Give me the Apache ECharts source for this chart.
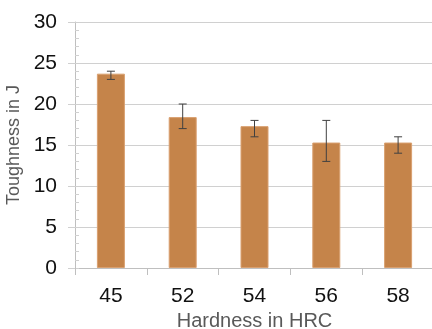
<!DOCTYPE html>
<html>
<head>
<meta charset="utf-8">
<script src="https://cdn.jsdelivr.net/npm/echarts@6/dist/echarts.min.js"></script>
<style>html,body{margin:0;padding:0;background:#fff;}#c{width:432px;height:329px;}</style>
</head>
<body>
<div id="c"></div>
<script>
const categories = ['45', '52', '54', '56', '58'];
const toughness = [23.7, 18.4, 17.3, 15.3, 15.3];
const errLow = [23.0, 17.0, 16.0, 13.0, 14.0];
const errHigh = [24.0, 20.0, 18.0, 18.0, 16.0];
const yTicks = [0, 5, 10, 15, 20, 25, 30];

const chart = echarts.init(document.getElementById('c'), null, {renderer: 'canvas'});
const font = 'Liberation Sans, Arial, sans-serif';
const errData = categories.map((c, i) => [i, errLow[i], errHigh[i]]);

chart.setOption({
  animation: false,
  backgroundColor: '#ffffff',
  grid: {left: 75, top: 22, width: 359, bottom: 61, containLabel: false, outerBoundsMode: 'none'},
  xAxis: {
    type: 'category',
    data: categories,
    name: 'Hardness in HRC',
    nameLocation: 'middle',
    nameGap: 41,
    nameTextStyle: {color: '#595959', fontSize: 20, fontFamily: font},
    axisLine: {lineStyle: {color: '#bfbfbf', width: 1}},
    axisTick: {show: true, length: 7, lineStyle: {color: '#bfbfbf'}},
    axisLabel: {color: '#111111', fontSize: 21, fontFamily: font, margin: 18}
  },
  yAxis: [{
    type: 'value',
    min: yTicks[0],
    max: yTicks[yTicks.length - 1],
    interval: 5,
    name: 'Toughness in J',
    nameLocation: 'middle',
    nameGap: 48,
    nameTextStyle: {color: '#595959', fontSize: 18, fontFamily: font},
    axisLine: {show: true, lineStyle: {color: '#bfbfbf', width: 1}},
    axisTick: {show: true, length: 7, lineStyle: {color: '#d0d0d0'}},
    axisLabel: {color: '#111111', fontSize: 21, fontFamily: font, margin: 18},
    splitLine: {show: true, lineStyle: {color: '#d0d0d0', width: 1}}
  }, {
    type: 'value',
    position: 'left',
    min: 0, max: 30, interval: 1,
    axisLine: {show: false},
    axisTick: {show: true, inside: true, length: 4, lineStyle: {color: '#d0d0d0'}},
    axisLabel: {show: false},
    splitLine: {show: false}
  }],
  series: [{
    type: 'bar',
    data: toughness,
    barWidth: 28,
    itemStyle: {color: '#C5844A', borderColor: '#D9A070', borderWidth: 1}
  }, {
    type: 'custom',
    data: errData,
    z: 10,
    renderItem: function (params, api) {
      const x = api.coord([api.value(0), api.value(1)])[0];
      const lo = api.coord([api.value(0), api.value(1)])[1];
      const hi = api.coord([api.value(0), api.value(2)])[1];
      const cap = 4;
      const style = {stroke: '#404040', lineWidth: 1};
      return {
        type: 'group',
        children: [
          {type: 'line', shape: {x1: x, y1: lo, x2: x, y2: hi}, style: style},
          {type: 'line', shape: {x1: x - cap, y1: lo, x2: x + cap, y2: lo}, style: style},
          {type: 'line', shape: {x1: x - cap, y1: hi, x2: x + cap, y2: hi}, style: style}
        ]
      };
    }
  }]
});
</script>
</body>
</html>
